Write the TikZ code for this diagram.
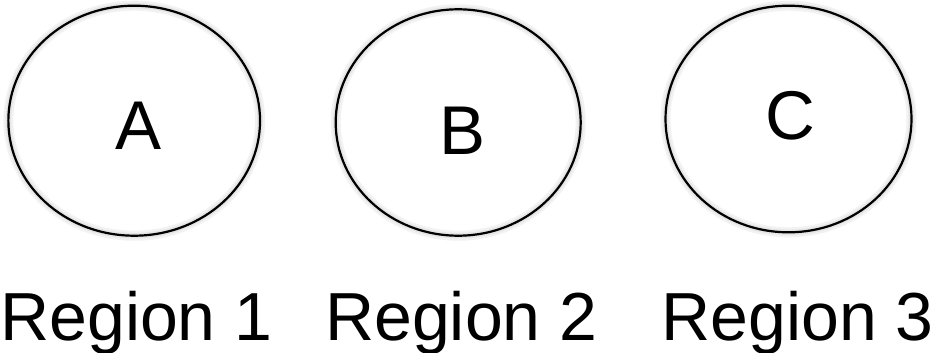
\documentclass[tikz,border=0pt]{standalone}
\usepackage{fontspec}
\setmainfont{Liberation Sans}
\usetikzlibrary{shapes.geometric}
\begin{document}
\begin{tikzpicture}[x=1pt,y=-1pt,
  region/.style={ellipse,draw=black,line width=2.2pt,inner sep=0pt,outer sep=0pt,
    preaction={draw=black!5,line width=10pt},
    preaction={draw=black!10,line width=5.5pt}},
  bigtext/.style={inner sep=0pt,outer sep=0pt,anchor=base,font=\fontsize{69}{80}\selectfont},
  caption/.style={inner sep=0pt,outer sep=0pt,anchor=base west,font=\fontsize{68}{80}\selectfont}]
\useasboundingbox[fill=white] (0,0) rectangle (932,353);
\node[region,minimum width=251.7pt,minimum height=230pt] (eA) at (134.2,120.7) {};
\node[region,minimum width=245pt,minimum height=226.4pt] (eB) at (458.2,122.5) {};
\node[region,minimum width=246pt,minimum height=226.6pt] (eC) at (788.5,119) {};
\node[bigtext] (tA) at (139,149) {A};
\node[bigtext] (tB) at (462.5,154) {B};
\node[bigtext] (tC) at (790.3,139.5) {C};
\node[caption] (r1) at (0.3,340.5) {Region 1};
\node[caption] (r2) at (325.2,340.5) {Region 2};
\node[caption] (r3) at (661.5,340.5) {Region 3};
\end{tikzpicture}
\end{document}
